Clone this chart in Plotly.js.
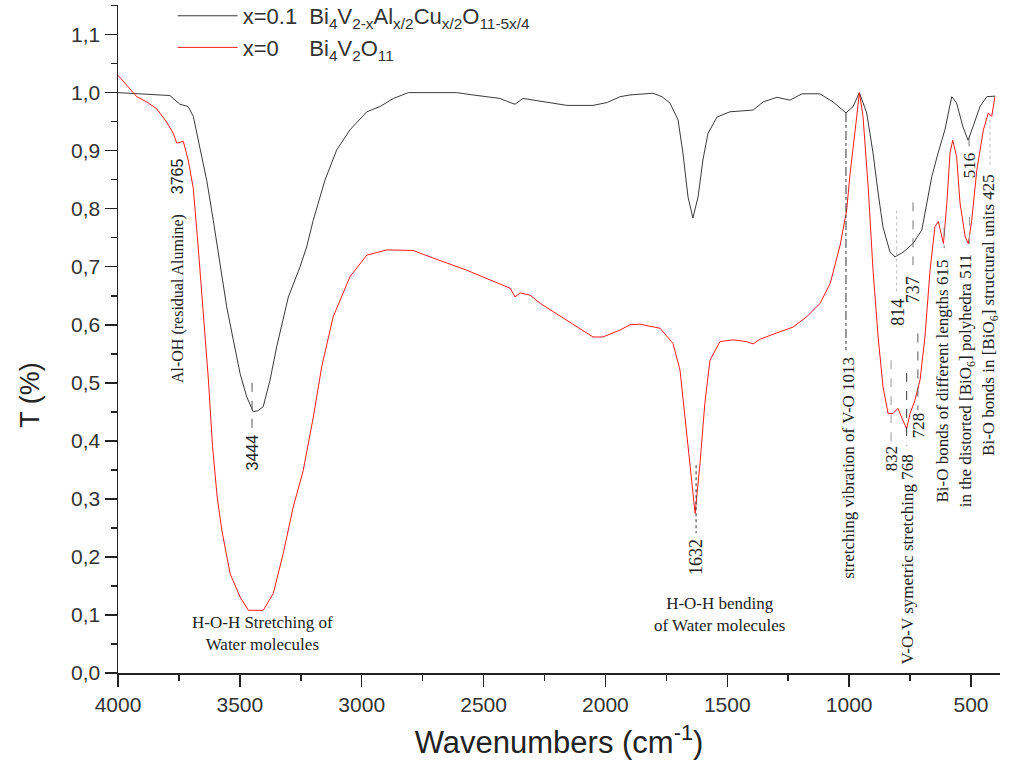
<!DOCTYPE html>
<html>
<head>
<meta charset="utf-8">
<script src="https://cdn.plot.ly/plotly-3.0.1.min.js"></script>
<style>html,body{margin:0;padding:0;background:#fff;}#chart{width:1010px;height:771px;}</style>
</head>
<body>
<div id="chart"></div>
<script>
// ---- Data ----
const wnDoped = [4000, 3869, 3787, 3746, 3712, 3691, 3664, 3636, 3609, 3581, 3554, 3527, 3499, 3472, 3445, 3426, 3404, 3376, 3349, 3301, 3253, 3226, 3199, 3151, 3103, 3048, 2979, 2925, 2870, 2809, 2610, 2543, 2433, 2391, 2371, 2338, 2297, 2215, 2158, 2051, 1993, 1940, 1899, 1805, 1768, 1735, 1702, 1682, 1661, 1641, 1620, 1600, 1579, 1542, 1489, 1394, 1353, 1296, 1243, 1193, 1120, 1066, 1013, 984, 958, 928, 902, 881, 861, 832, 812, 779, 738, 702, 682, 661, 635, 607, 579, 559, 533, 512, 492, 463, 435, 401];
const tDoped = [1.0, 0.997, 0.995, 0.98, 0.976, 0.959, 0.907, 0.849, 0.78, 0.70, 0.631, 0.574, 0.516, 0.476, 0.45, 0.452, 0.459, 0.505, 0.562, 0.648, 0.70, 0.734, 0.78, 0.849, 0.901, 0.936, 0.967, 0.976, 0.99, 1.0, 1.0, 0.996, 0.99, 0.983, 0.98, 0.99, 0.987, 0.982, 0.978, 0.978, 0.983, 0.993, 0.996, 0.999, 0.993, 0.982, 0.953, 0.896, 0.82, 0.784, 0.82, 0.884, 0.93, 0.958, 0.967, 0.97, 0.984, 0.992, 0.987, 0.998, 0.998, 0.984, 0.965, 0.976, 1.0, 0.965, 0.896, 0.827, 0.768, 0.725, 0.717, 0.725, 0.74, 0.763, 0.81, 0.855, 0.896, 0.936, 0.993, 0.982, 0.941, 0.918, 0.941, 0.976, 0.993, 0.994];

const wnPure = [4000, 3923, 3882, 3841, 3800, 3773, 3759, 3732, 3712, 3691, 3671, 3650, 3629, 3612, 3593, 3574, 3540, 3499, 3465, 3404, 3363, 3322, 3281, 3240, 3199, 3164, 3117, 3048, 2979, 2897, 2789, 2707, 2569, 2391, 2371, 2350, 2309, 2268, 2159, 2051, 2010, 1940, 1899, 1858, 1776, 1723, 1694, 1673, 1653, 1632, 1612, 1592, 1571, 1530, 1477, 1420, 1394, 1366, 1297, 1230, 1174, 1119, 1078, 1037, 1010, 996, 969, 958, 943, 922, 902, 881, 861, 840, 820, 800, 779, 764, 750, 730, 709, 689, 668, 648, 634, 620, 613, 599, 586, 575, 559, 545, 524, 511, 497, 476, 449, 429, 415, 402];
const tPure = [1.03, 0.993, 0.984, 0.972, 0.949, 0.93, 0.913, 0.916, 0.884, 0.835, 0.734, 0.62, 0.505, 0.39, 0.303, 0.246, 0.171, 0.131, 0.108, 0.108, 0.137, 0.206, 0.286, 0.349, 0.44, 0.528, 0.614, 0.683, 0.72, 0.729, 0.728, 0.715, 0.694, 0.663, 0.648, 0.655, 0.651, 0.637, 0.608, 0.579, 0.579, 0.591, 0.6, 0.601, 0.594, 0.568, 0.522, 0.436, 0.349, 0.275, 0.361, 0.465, 0.539, 0.571, 0.574, 0.571, 0.567, 0.575, 0.586, 0.596, 0.614, 0.637, 0.671, 0.737, 0.798, 0.861, 0.958, 1.0, 0.959, 0.838, 0.694, 0.579, 0.493, 0.447, 0.447, 0.456, 0.435, 0.421, 0.447, 0.47, 0.505, 0.579, 0.694, 0.769, 0.778, 0.752, 0.74, 0.81, 0.896, 0.918, 0.89, 0.81, 0.752, 0.74, 0.78, 0.867, 0.936, 0.965, 0.959, 0.993];

const seriesNames = [
  'x=0.1&nbsp;&nbsp;Bi<sub>4</sub>V<sub>2-x</sub>Al<sub>x/2</sub>Cu<sub>x/2</sub>O<sub>11-5x/4</sub>',
  'x=0&nbsp;&nbsp;&nbsp;&nbsp;&nbsp;Bi<sub>4</sub>V<sub>2</sub>O<sub>11</sub>'
];
const xTickVals = [4000, 3500, 3000, 2500, 2000, 1500, 1000, 500];
const yTickVals = [0, 0.1, 0.2, 0.3, 0.4, 0.5, 0.6, 0.7, 0.8, 0.9, 1.0, 1.1];
const xTitle = 'Wavenumbers (cm<sup>-1</sup>)';
const yTitle = 'T (%)';

// ---- Styling ----
const SERIF = 'Liberation Serif, DejaVu Serif, serif';
const SANS = 'Liberation Sans, Arial, sans-serif';
const TXT = '#222';

const traces = [
  {x: wnDoped, y: tDoped, type: 'scatter', mode: 'lines', name: seriesNames[0],
   line: {color: '#3a3a3a', width: 1}},
  {x: wnPure, y: tPure, type: 'scatter', mode: 'lines', name: seriesNames[1],
   line: {color: '#ff1a1a', width: 1}}
];

function rot(text, x, y, opts) {
  opts = opts || {};
  return {x: x, y: y, xref: 'x', yref: 'y', text: text, showarrow: false, textangle: -90,
    xanchor: 'center', yanchor: 'middle',
    font: {family: opts.family || SERIF, size: opts.size || 17, color: TXT}};
}
function hor(text, x, y, opts) {
  opts = opts || {};
  return {x: x, y: y, xref: 'x', yref: 'y', text: text, showarrow: false,
    xanchor: 'center', yanchor: 'middle', align: 'center',
    font: {family: opts.family || SERIF, size: opts.size || 17, color: TXT}};
}

const annotations = [
  rot('3765', 3758, 0.856, {family: SANS, size: 16}),
  rot('Al-OH (residual Alumine)', 3754, 0.646, {size: 16}),
  rot('3444', 3450, 0.380, {family: SANS, size: 16}),
  hor('H-O-H Stretching of<br>Water molecules', 3409, 0.068, {size: 17}),
  rot('1632', 1628, 0.200, {size: 18}),
  hor('H-O-H bending<br>of Water molecules', 1530, 0.100, {size: 17}),
  rot('stretching vibration of V-O 1013', 1006, 0.353, {size: 17}),
  rot('832', 828, 0.370, {size: 17}),
  rot('V-O-V symetric stretching 768', 762, 0.196, {size: 17}),
  rot('728', 717, 0.427, {size: 17}),
  rot('814', 803, 0.621, {size: 18}),
  rot('737', 738, 0.661, {size: 18}),
  rot('Bi-O bonds of different lengths 615', 615, 0.504, {size: 17}),
  rot('in the distorted [BiO<sub>6</sub>] polyhedra 511', 516, 0.503, {size: 17}),
  rot('516', 508, 0.875, {size: 17}),
  rot('Bi-O bonds in [BiO<sub>6</sub>] structural units 425', 422, 0.617, {size: 17}),
  // y-axis title, placed like the reference (lower than the axis middle)
  {x: -0.1, xref: 'paper', y: 0.479, yref: 'y', text: yTitle, showarrow: false, textangle: -90,
   xanchor: 'center', yanchor: 'middle', font: {family: SANS, size: 27, color: TXT}}
];

function vline(x, y0, y1, dash, color) {
  return {type: 'line', xref: 'x', yref: 'y', x0: x, x1: x, y0: y0, y1: y1,
    line: {color: color || '#444', width: 1, dash: dash || 'dash'}};
}
const shapes = [
  vline(3450, 0.50, 0.413, 'dash', '#555'),
  vline(1628, 0.358, 0.241, 'dot', '#333'),
  vline(1013, 0.965, 0.556, 'dashdot', '#333'),
  vline(828, 0.539, 0.397, 'dash', '#999'),
  vline(764, 0.517, 0.392, 'dash', '#333'),
  vline(718, 0.585, 0.453, 'dash', '#555'),
  vline(805, 0.797, 0.654, 'dot', '#bbb'),
  vline(738, 0.811, 0.698, 'dash', '#777'),
  vline(610, 0.768, 0.732, 'dash', '#777'),
  vline(506, 0.786, 0.732, 'dash', '#999'),
  vline(508, 0.923, 0.900, 'dash', '#777'),
  vline(422, 0.953, 0.875, 'dot', '#bbb')
];

const layout = {
  width: 1010, height: 771,
  margin: {l: 118, r: 10, t: 5, b: 98, autoexpand: false},
  paper_bgcolor: '#fff', plot_bgcolor: '#fff',
  separators: ', ',
  showlegend: true,
  legend: {x: 0.062, y: 1.015, xanchor: 'left', yanchor: 'top', bgcolor: 'rgba(0,0,0,0)',
    font: {family: SANS, size: 22, color: '#333'}, itemwidth: 60, tracegroupgap: 0},
  xaxis: {
    range: [4000, 381], autorange: false,
    tickmode: 'array', tickvals: xTickVals,
    ticks: 'outside', ticklen: 12, tickwidth: 1.5, tickcolor: '#222',
    minor: {dtick: 250, tick0: 0, ticks: 'outside', ticklen: 6, tickwidth: 1.5, tickcolor: '#222', showgrid: false},
    showline: true, linecolor: '#222', linewidth: 1.5, mirror: false,
    showgrid: false, zeroline: false, automargin: false,
    tickfont: {family: SANS, size: 21, color: '#333'},
    title: {text: xTitle, font: {family: SANS, size: 31, color: TXT}, standoff: 16}
  },
  yaxis: {
    range: [0, 1.151], autorange: false,
    tickmode: 'array', tickvals: yTickVals, tickformat: '.1f',
    ticks: 'outside', ticklen: 12, tickwidth: 1.5, tickcolor: '#222',
    minor: {dtick: 0.05, tick0: 0, ticks: 'outside', ticklen: 6, tickwidth: 1.5, tickcolor: '#222', showgrid: false},
    showline: true, linecolor: '#222', linewidth: 1.5, mirror: false,
    showgrid: false, zeroline: false, automargin: false,
    tickfont: {family: SANS, size: 21, color: '#333'}
  },
  annotations: annotations,
  shapes: shapes
};

Plotly.newPlot('chart', traces, layout, {displayModeBar: false, staticPlot: true});
</script>
</body>
</html>
